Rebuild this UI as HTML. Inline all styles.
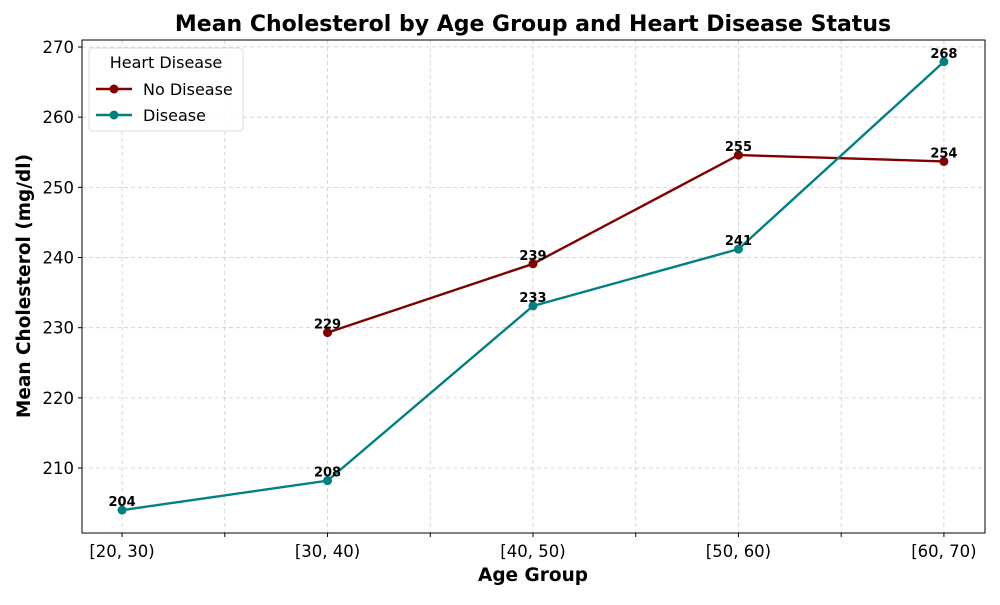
<!DOCTYPE html>
<html><head><meta charset="utf-8"><style>
body{margin:0;background:#fff;font-family:"Liberation Sans","DejaVu Sans",sans-serif}
</style></head><body>
<svg id="chart" width="1000" height="600" xmlns="http://www.w3.org/2000/svg" font-family="DejaVu Sans, Liberation Sans, sans-serif"></svg>
<script>
const categories=["[20, 30)","[30, 40)","[40, 50)","[50, 60)","[60, 70)"];
const noDisease=[null,229.3,239.1,254.6,253.7];
const disease=[204.0,208.2,233.1,241.2,267.9];
const yTicks=[210,220,230,240,250,260,270];
const L=82,R=985,T=40,B=533;
const xMin=-0.195,xMax=4.2,yMin=200.74,yMax=271.0;
const x=i=>L+(i-xMin)/(xMax-xMin)*(R-L);
const y=v=>B-(v-yMin)/(yMax-yMin)*(B-T);
const svg=document.getElementById('chart');
const NS="http://www.w3.org/2000/svg";
function mk(t,a,p){const e=document.createElementNS(NS,t);for(const k in a)e.setAttribute(k,a[k]);(p||svg).appendChild(e);return e;}
for(let i=0;i<=8;i++){const g=mk('line',{x1:x(i/2),x2:x(i/2),y1:T,y2:B,stroke:'#ccc','stroke-dasharray':'4,3','stroke-width':0.8});


const tk=mk('line',{x1:x(i/2),x2:x(i/2),y1:B,y2:B+4,stroke:'#000'});

}
yTicks.forEach(v=>{const g=mk('line',{x1:L,x2:R,y1:y(v),y2:y(v),stroke:'#ccc','stroke-dasharray':'4,3','stroke-width':0.8});


mk('line',{x1:L-4,x2:L,y1:y(v),y2:y(v),stroke:'#000'});
const t=mk('text',{x:L-8,y:y(v)+6,'text-anchor':'end','font-size':16.5});t.textContent=v;

});
categories.forEach((c,i)=>{const t=mk('text',{x:x(i),y:B+24,'text-anchor':'middle','font-size':16.5});t.textContent=c;

});
const fr=mk('rect',{x:L,y:T,width:R-L,height:B-T,fill:'none',stroke:'#000','stroke-width':1});


function series(data,color,name){
 let d='';data.forEach((v,i)=>{if(v==null)return;d+=(d?'L':'M')+x(i)+','+y(v);});
 const p=mk('path',{d:d,fill:'none',stroke:color,'stroke-width':2.4});
 
 
 data.forEach((v,i)=>{if(v==null)return;
  const c=mk('circle',{cx:x(i),cy:y(v),r:4.5,fill:color});
  
  
  const t=mk('text',{x:x(i),y:y(v)-4,'text-anchor':'middle','font-size':13,'font-weight':'bold'});t.textContent=Math.round(v);
  
  });
}
series(noDisease,'#800000','no-disease');
series(disease,'#008080','disease');
</script>
<svg style="position:absolute;left:0;top:0" width="1000" height="600" font-family="DejaVu Sans, Liberation Sans, sans-serif">
<text x="533" y="31" text-anchor="middle" font-size="22" font-weight="bold">Mean Cholesterol by Age Group and Heart Disease Status</text>
<text x="533" y="581" text-anchor="middle" font-size="18.5" font-weight="bold">Age Group</text>
<text transform="translate(30,286) rotate(-90)" text-anchor="middle" font-size="18.5" font-weight="bold">Mean Cholesterol (mg/dl)</text>
<g>
<rect x="89" y="48" width="154" height="83" rx="3" fill="#fff" fill-opacity="0.85" stroke="#ddd"/>
<text x="166" y="68" text-anchor="middle" font-size="16">Heart Disease</text>
<g><line x1="96" x2="132" y1="89" y2="89" stroke="#800000" stroke-width="2.4"/><circle cx="114" cy="89" r="4.5" fill="#800000"/><text x="143" y="95" font-size="16">No Disease</text></g>
<g><line x1="96" x2="132" y1="115" y2="115" stroke="#008080" stroke-width="2.4"/><circle cx="114" cy="115" r="4.5" fill="#008080"/><text x="143" y="121" font-size="16">Disease</text></g>
</g>
</svg>
</body></html>
